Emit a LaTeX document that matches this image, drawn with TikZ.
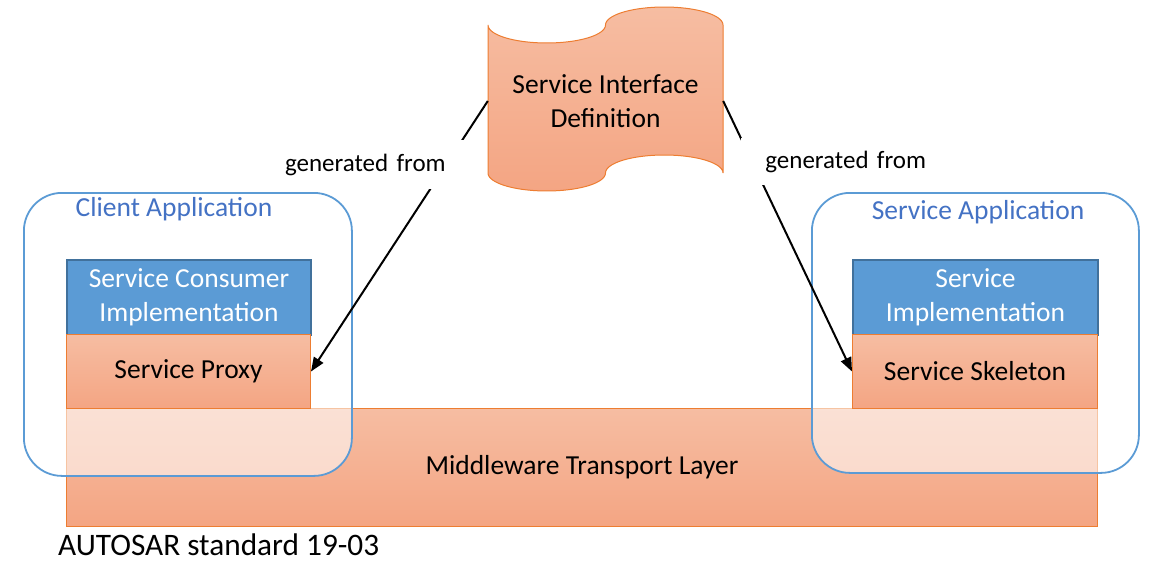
\documentclass[tikz,border=0pt]{standalone}
\usepackage{fontspec}
\setmainfont{Carlito}
\usetikzlibrary{arrows.meta}
\definecolor{orTop}{HTML}{F6BDA2}
\definecolor{orBot}{HTML}{F4A583}
\definecolor{orLine}{HTML}{ED7D31}
\definecolor{blueFill}{HTML}{5B9BD5}
\definecolor{blueLine}{HTML}{41719C}
\definecolor{appLine}{HTML}{5B9BD5}
\definecolor{appText}{HTML}{4472C4}
\newcommand\mainsize{\fontsize{27.5}{33.5}\selectfont}
\newcommand\notesize{\fontsize{25}{30}\selectfont}
\newcommand\capsize{\fontsize{31.3}{38}\selectfont}
\begin{document}
\begin{tikzpicture}[x=1pt,y=-1pt,
  orangebox/.style={draw=orLine, line width=1pt, top color=orTop, bottom color=orBot,
    font=\mainsize, text=black, anchor=north west, inner sep=0pt, align=center},
  bluebox/.style={draw=blueLine, line width=2pt, fill=blueFill, text=white,
    font=\mainsize, anchor=north west, inner sep=0pt, align=center},
  appbox/.style={draw=appLine, line width=1.8pt, fill=white, fill opacity=0.55,
    draw opacity=1, rounded corners=38pt, anchor=north west, inner sep=0pt},
  applabel/.style={text=appText, font=\mainsize, inner sep=0pt},
  genlabel/.style={fill=white, font=\notesize, inner xsep=4pt, inner ysep=0pt},
  gen/.style={line width=2pt, -{Triangle[length=14pt,width=11pt]}}
]
\useasboundingbox (0,0) rectangle (1150,564);

% transport layer underneath everything
\node[orangebox, minimum width=1031pt, minimum height=118pt] (mw) at (66,408) {Middleware Transport Layer};

% application containers (translucent white over the transport layer)
\node[appbox, minimum width=328pt, minimum height=283pt] (client) at (23,192) {};
\node[appbox, minimum width=327pt, minimum height=280pt] (service) at (811,192) {};
\node[applabel] (clientlbl) at (174,209) {Client Application};
\node[applabel] (servicelbl) at (978,212) {Service Application};

% client side stack
\node[bluebox, minimum width=244pt, minimum height=75pt] (consumer) at (66,259) {Service Consumer\\Implementation};
\node[orangebox, minimum width=244pt, minimum height=74pt] (proxy) at (66,334) {Service Proxy};

% service side stack
\node[bluebox, minimum width=245pt, minimum height=75pt] (impl) at (852,259) {Service\\Implementation};
\node[orangebox, minimum width=245pt, minimum height=74pt] (skel) at (852,334) {Service Skeleton};

% punched-tape shaped interface definition
\path[draw=orLine, line width=1pt, top color=orTop, bottom color=orBot]
  (488,25)
  -- plot[domain=180:0, samples=40, variable=\t] ({546.75+58.75*cos(\t)},{25+18*sin(\t)})
  -- plot[domain=180:360, samples=40, variable=\t] ({664.25+58.75*cos(\t)},{25+18*sin(\t)})
  -- (723,173)
  -- plot[domain=0:-180, samples=40, variable=\t] ({664.25+58.75*cos(\t)},{173+18*sin(\t)})
  -- plot[domain=0:180, samples=40, variable=\t] ({546.75+58.75*cos(\t)},{173+18*sin(\t)})
  -- cycle;
\node[font=\mainsize, align=center, inner sep=0pt, minimum width=235pt, minimum height=140pt] (sid) at (605.5,101) {Service Interface\\Definition};

% generation relations
\draw[gen] (sid.west) -- (proxy.east);
\draw[gen] (sid.east) -- (skel.west);
\node[genlabel, text width=175pt, align=left, minimum height=49pt] (genL) at (372.5,164.5) {generated from};
\node[genlabel, text width=181pt, align=right, minimum height=47pt] (genR) at (835.5,161.5) {generated from};

% source note
\node[font=\capsize, anchor=base west, inner sep=0pt] (cap) at (58,555) {AUTOSAR standard 19-03};
\end{tikzpicture}
\end{document}
